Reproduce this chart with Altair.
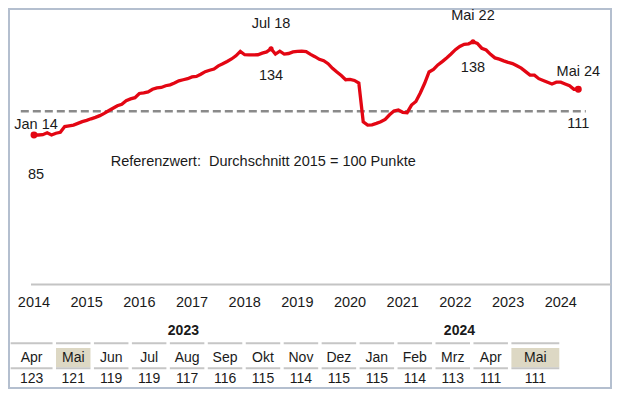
import altair as alt
import pandas as pd

# ---------------- data ----------------
values_2014 = [85, 85, 85.2, 86.3, 85, 86, 86.5, 89.8, 90.2, 90.6, 91.6, 92.6]
values_2015 = [93.3, 94.2, 95, 96, 97.3, 98.8, 100.2, 101.6, 102.5, 104.5, 105.5, 106.2]
values_2016 = [108.6, 109, 109.5, 111, 111.8, 112, 113, 113.5, 114.5, 115.8, 116.4, 117]
values_2017 = [118, 118.3, 119.5, 121, 121.8, 122.5, 124.3, 125.5, 126.8, 128.2, 130, 132.5]
values_2018 = [130.6, 130.5, 130.5, 130.6, 131.5, 132.2, 134, 131, 132.6, 131, 131.3, 132.2]
values_2019 = [132.5, 132.6, 132.4, 130.8, 129.5, 128, 127.2, 125.5, 122.9, 120.8, 118.8, 116.4]
values_2020 = [116.6, 116, 114.5, 92.5, 90.6, 90.8, 91.6, 92.5, 93.9, 96.5, 98.6, 99.2]
values_2021 = [97.9, 97.7, 102, 104, 108.9, 114.4, 120.8, 122.3, 124.8, 126.7, 128.8, 131]
values_2022 = [133.5, 135.3, 136.5, 136.8, 138, 137, 134.3, 133.3, 130.8, 128.8, 128.1, 127.1]
values_2023 = [126.3, 125.6, 124.3, 123, 121, 119, 119, 117, 116, 115, 114, 115]
values_2024 = [115, 114, 113, 111, 111]

year_ticks = list(range(2014, 2025))

ann_names = ["Jan 14", "Jul 18", "Mai 22", "Mai 24"]
ann_months = [0, 54, 100, 124]
ann_values = [85, 134, 138, 111]

ref_value = 98.5
note_text = "Referenzwert:\u00a0 Durchschnitt 2015 = 100 Punkte"

table_months = ["Apr", "Mai", "Jun", "Jul", "Aug", "Sep", "Okt", "Nov", "Dez",
                "Jan", "Feb", "Mrz", "Apr", "Mai"]
table_values = [123, 121, 119, 119, 117, 116, 115, 114, 115, 115, 114, 113, 111, 111]
table_years = ["2023"] * 9 + ["2024"] * 5
table_highlight = [False, True] + [False] * 11 + [True]

# ---------------- layout / style ----------------
FONT = "Liberation Sans"
TXT = "#1a1a1a"
RED = "#e30613"
W, H = 602, 379
X_DOMAIN = [-0.68, 131.4]
series = (values_2014 + values_2015 + values_2016 + values_2017 + values_2018 +
          values_2019 + values_2020 + values_2021 + values_2022 + values_2023 + values_2024)
df = pd.DataFrame({"t": list(range(len(series))), "v": series})

XS = alt.Scale(domain=X_DOMAIN, range=[22.0, 601.8], nice=False, zero=False)
YS = alt.Scale(domain=[0, 160], range=[275.6, -6.0], nice=False, zero=False)


def X(field):
    return alt.X(field, type="quantitative", scale=XS, axis=None, title=None)


def Y(field):
    return alt.Y(field, type="quantitative", scale=YS, axis=None, title=None)


# x axis: baseline rule + year labels
axis_df = pd.DataFrame({"t0": [X_DOMAIN[0]], "t1": [X_DOMAIN[1]], "v": [0]})
axis_line = alt.Chart(axis_df).mark_rule(color="#c4c4c4", strokeWidth=2).encode(
    x=X("t0"), x2="t1", y=Y("v"))
years_df = pd.DataFrame({"t": [(y - 2014) * 12 for y in year_ticks], "v": [0] * len(year_ticks),
                         "lab": [str(y) for y in year_ticks]})
year_labels = alt.Chart(years_df).mark_text(font=FONT, fontSize=14.5, color=TXT, align="center",
                                            baseline="middle", dy=18.5).encode(
    x=X("t"), y=Y("v"), text="lab:N")

ref_df = pd.DataFrame({"t0": [-3.0], "t1": [125.7], "v": [ref_value]})
ref_rule = alt.Chart(ref_df).mark_rule(color="#8a8a8a", strokeWidth=2.5, strokeDash=[8, 4]).encode(
    x=X("t0"), x2="t1", y=Y("v"))

line = alt.Chart(df).mark_line(color=RED, strokeWidth=3.3, interpolate="linear").encode(
    x=X("t"), y=Y("v"))

ann_df = pd.DataFrame({"name": ann_names, "t": ann_months, "v": ann_values,
                       "num": [str(v) for v in ann_values]})

end_pts = alt.Chart(ann_df).transform_filter("datum.t == 0 || datum.t == 124").mark_circle(
    color=RED, size=48, opacity=1).encode(x=X("t"), y=Y("v"))
peak_pts = alt.Chart(ann_df).transform_filter("datum.t == 54 || datum.t == 100").mark_circle(
    color=RED, size=26, opacity=1).encode(x=X("t"), y=Y("v"))

name_dy = {"Jan 14": -10, "Jul 18": -24.8, "Mai 22": -25.7, "Mai 24": -17.5}
num_dy = {"Jan 14": 40, "Jul 18": 27.2, "Mai 22": 26.6, "Mai 24": 34.8}
name_dx = {"Jan 14": 2, "Jul 18": 0, "Mai 22": 0, "Mai 24": 0}

ann_layers = []
for nm in ann_names:
    base = alt.Chart(ann_df).transform_filter(alt.datum.name == nm)
    ann_layers.append(base.mark_text(font=FONT, fontSize=14.5, color=TXT, align="center",
                                     baseline="middle", dy=name_dy[nm], dx=name_dx[nm]).encode(
        x=X("t"), y=Y("v"), text="name:N"))
    ann_layers.append(base.mark_text(font=FONT, fontSize=14.5, color=TXT, align="center",
                                     baseline="middle", dy=num_dy[nm], dx=name_dx[nm]).encode(
        x=X("t"), y=Y("v"), text="num:N"))

note_df = pd.DataFrame({"t": [17.47], "v": [69.8], "txt": [note_text]})
note = alt.Chart(note_df).mark_text(font=FONT, fontSize=14.5, color=TXT, align="left",
                                    baseline="middle").encode(x=X("t"), y=Y("v"), text="txt:N")

main = alt.layer(axis_line, year_labels, ref_rule, line, end_pts, peak_pts, *ann_layers, note)

# ---------------- table ----------------
n = len(table_months)
lefts = [k - (0.195 if k == 0 else 0) for k in range(n)]
rights = [k + 0.909 + (0.353 if k == n - 1 else 0) for k in range(n)]
tdf = pd.DataFrame({
    "month": table_months, "val": [str(v) for v in table_values], "year": table_years,
    "hl": table_highlight, "l": lefts, "r": rights,
    "c": [(a + b) / 2 for a, b in zip(lefts, rights)],
})
hdf = tdf.groupby("year", as_index=False).agg(l=("l", "min"), r=("r", "max"))
hdf["c"] = (hdf["l"] + hdf["r"]) / 2

TXS = alt.Scale(domain=[0, 14], range=[9.05, 540.35], nice=False, zero=False)
TYS = alt.Scale(domain=[0, 1], range=[321.7, 370.2], nice=False, zero=False)


def TX(field):
    return alt.X(field, type="quantitative", scale=TXS, axis=None, title=None)


def TY(val):
    return alt.Y(datum=val, type="quantitative", scale=TYS, axis=None, title=None)


bg = alt.Chart(tdf).transform_filter("datum.hl").mark_rect(color="#ddd8c4").encode(
    x=TX("l"), x2="r", y=TY(0.357), y2=alt.Y2(datum=0.755))
line_top = alt.Chart(tdf).mark_rule(color="#c6c6c6", strokeWidth=2).encode(
    x=TX("l"), x2="r", y=TY(0.26))
line_bot = alt.Chart(tdf).mark_rule(color="#c6c6c6", strokeWidth=2).encode(
    x=TX("l"), x2="r", y=TY(0.775))
month_txt = alt.Chart(tdf).mark_text(font=FONT, fontSize=14, color=TXT, baseline="middle").encode(
    x=TX("c"), y=TY(0.569), text="month:N")
val_txt = alt.Chart(tdf).mark_text(font=FONT, fontSize=14, color=TXT, baseline="middle").encode(
    x=TX("c"), y=TY(1.0), text="val:N")
head_txt = alt.Chart(hdf).mark_text(font=FONT, fontSize=14, fontWeight="bold", color=TXT,
                                    baseline="middle").encode(
    x=TX("c"), y=TY(0.0), text="year:N")

table = alt.layer(bg, line_top, line_bot, month_txt, val_txt, head_txt)

chart = alt.layer(main, table).resolve_scale(x="independent", y="independent").properties(
    width=W, height=H, autosize=alt.AutoSizeParams(type="none"), padding=1,
    background="white",
).configure_view(stroke="#b4bfcf", strokeWidth=2)

chart.save("out.html", embed_options={"renderer": "svg", "actions": False})
